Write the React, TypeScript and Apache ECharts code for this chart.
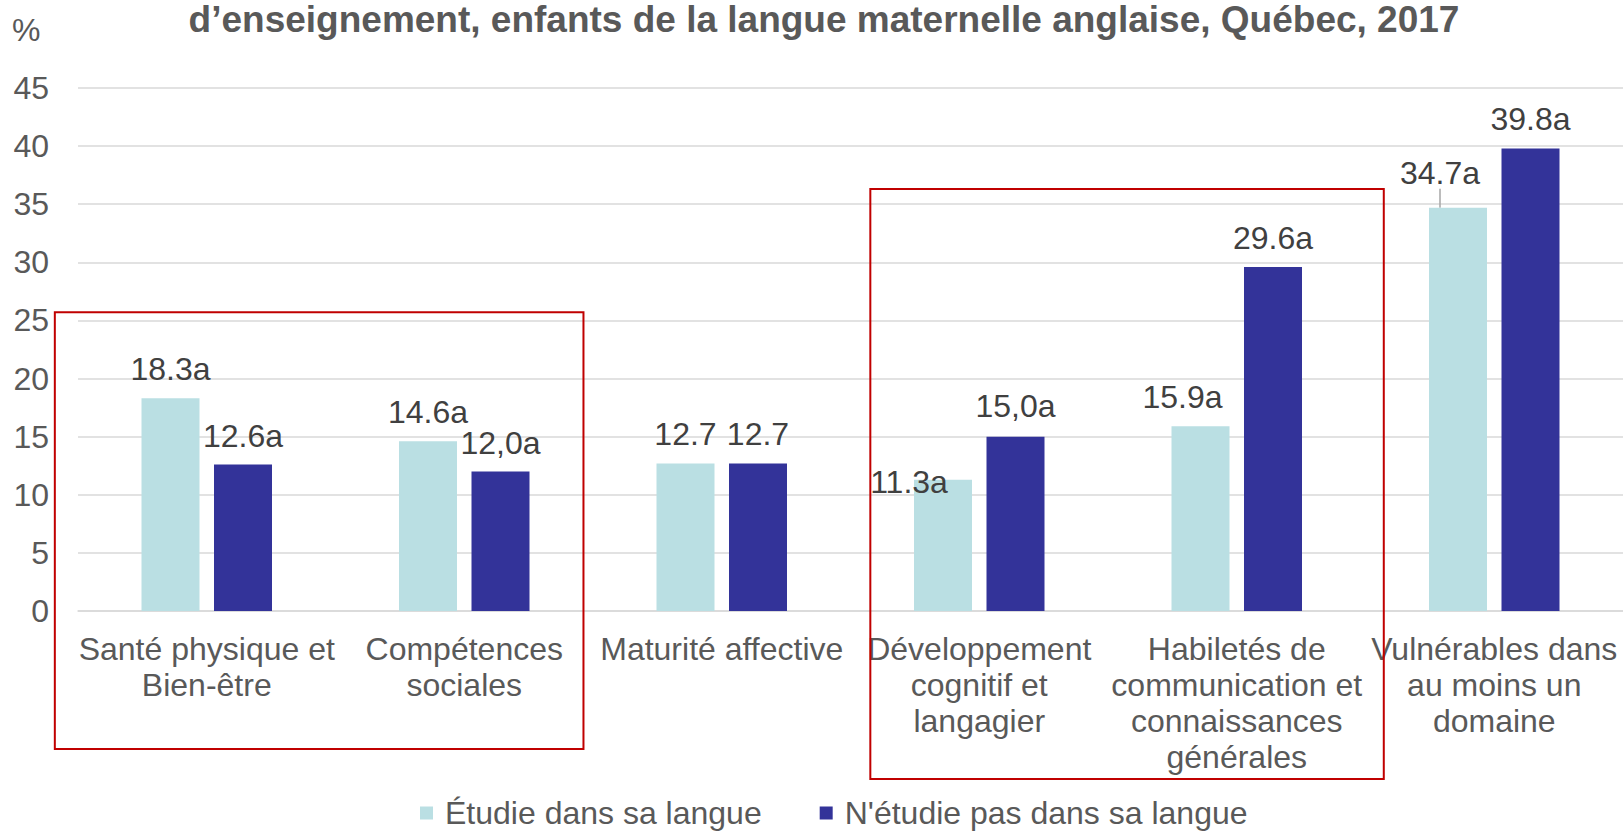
import React, { useEffect, useRef } from "react";
import * as echarts from "echarts";

const titleText = "d’enseignement, enfants de la langue maternelle anglaise, Québec, 2017";
const categories = [
  "Santé physique et\nBien-être",
  "Compétences\nsociales",
  "Maturité affective",
  "Développement\ncognitif et\nlangagier",
  "Habiletés de\ncommunication et\nconnaissances\ngénérales",
  "Vulnérables dans\nau moins un\ndomaine",
];
const seriesNames = ["Étudie dans sa langue", "N'étudie pas dans sa langue"];
const etudie = [18.3, 14.6, 12.7, 11.3, 15.9, 34.7];
const nEtudie = [12.6, 12.0, 12.7, 15.0, 29.6, 39.8];
const etudieLabels = ["18.3a", "14.6a", "12.7", "11.3a", "15.9a", "34.7a"];
const nEtudieLabels = ["12.6a", "12,0a", "12.7", "15,0a", "29.6a", "39.8a"];
const yMin = 0;
const yMax = 45;
const yInterval = 5;

const FONT = "'Liberation Sans', Arial, sans-serif";
const LIGHT = "#BADFE3";
const DARK = "#333399";

// label nudges (style only)
const etudieShift = [[0, 0], [0, 0], [0, 0], [-34, 31], [-18, 0], [-18, -6]];
const nEtudieShift = [[0, 0], [0, 0], [0, 0], [0, -2], [0, 0], [0, 0]];

export default function App() {
  const ref = useRef<HTMLDivElement>(null);
  useEffect(() => {
    document.body.style.margin = "0";
    const chart = echarts.init(ref.current!, null, { renderer: "svg" });
    const labelStyle = {
      show: true,
      position: "top",
      distance: 13,
      fontSize: 32,
      fontFamily: FONT,
      color: "#404040",
    };
    chart.setOption({
      animation: false,
      backgroundColor: "#fff",
      title: {
        text: titleText,
        left: 824,
        top: 1,
        textAlign: "center",
        padding: 0,
        textStyle: { fontSize: 37, fontWeight: "bold", color: "#595959", fontFamily: FONT },
      },
      grid: { left: 78, right: 0, top: 88, bottom: 222, containLabel: false },
      legend: {
        left: 415,
        top: 792,
        itemWidth: 13,
        itemHeight: 13,
        itemGap: 58,
        icon: "rect",
        textStyle: { fontSize: 32, fontFamily: FONT, color: "#595959", padding: [0, 0, 0, 7] },
        data: seriesNames,
      },
      xAxis: {
        type: "category",
        data: categories,
        axisLine: { lineStyle: { color: "#D9D9D9", width: 1.5 } },
        axisTick: { show: false },
        axisLabel: {
          interval: 0,
          margin: 20,
          fontSize: 32,
          lineHeight: 36,
          fontFamily: FONT,
          color: "#595959",
        },
      },
      yAxis: {
        type: "value",
        min: yMin,
        max: yMax,
        interval: yInterval,
        axisLine: { show: false },
        axisTick: { show: false },
        splitLine: { lineStyle: { color: "#D9D9D9", width: 1.5 } },
        axisLabel: { margin: 29, fontSize: 32, fontFamily: FONT, color: "#595959" },
      },
      series: [
        {
          name: seriesNames[0],
          type: "bar",
          barWidth: 58,
          barGap: "25%",
          itemStyle: { color: LIGHT },
          data: etudie.map((v, i) => ({
            value: v,
            labelLine:
              i === 5
                ? { show: true, lineStyle: { color: "#A6A6A6", width: 1.5 } }
                : { show: false },
          })),
          label: { ...labelStyle, formatter: (p: any) => etudieLabels[p.dataIndex] },
          labelLayout: (p: any) => ({ dx: etudieShift[p.dataIndex][0], dy: etudieShift[p.dataIndex][1] }),
        },
        {
          name: seriesNames[1],
          type: "bar",
          barWidth: 58,
          barGap: "25%",
          itemStyle: { color: DARK },
          data: nEtudie,
          label: { ...labelStyle, formatter: (p: any) => nEtudieLabels[p.dataIndex] },
          labelLayout: (p: any) => ({ dx: nEtudieShift[p.dataIndex][0], dy: nEtudieShift[p.dataIndex][1] }),
        },
      ],
    });

    // annotation boxes, placed from the axes
    const cx = (i: number) => chart.convertToPixel({ xAxisIndex: 0 }, i) as number;
    const cy = (v: number) => chart.convertToPixel({ yAxisIndex: 0 }, v) as number;
    const band = cx(1) - cx(0);
    const y0 = cy(0);
    const box = (l: number, r: number, t: number, b: number) => ({
      type: "rect",
      shape: { x: l, y: t, width: r - l, height: b - t },
      style: { fill: "none", stroke: "#C00000", lineWidth: 2 },
      z: 100,
    });
    chart.setOption({
      graphic: [
        {
          type: "text",
          left: 12,
          top: 14,
          style: { text: "%", fontSize: 32, fontFamily: FONT, fill: "#595959" },
        },
        box(cx(0) - 0.59 * band, cx(1) + 0.463 * band, cy(25.7), y0 + 138),
        box(cx(3) - 0.423 * band, cx(4) + 0.571 * band, cy(36.3), y0 + 168),
      ],
    });
    return () => chart.dispose();
  }, []);
  return <div ref={ref} style={{ width: 1623, height: 833 }} />;
}
